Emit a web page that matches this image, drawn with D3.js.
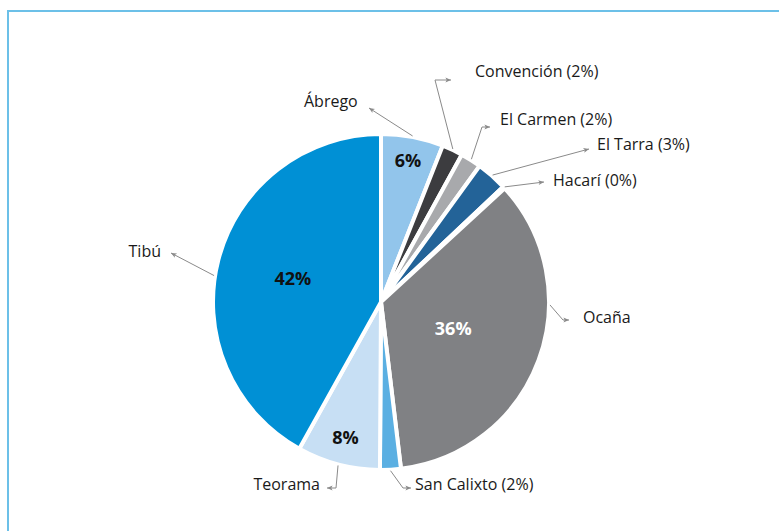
<!DOCTYPE html>
<html>
<head>
<meta charset="utf-8">
<script src="https://cdn.jsdelivr.net/npm/d3@7"></script>
<style>
  body { margin: 0; background: #fff; }
  svg { display: block; font-family: "Open Sans", "Noto Sans", sans-serif; }
</style>
</head>
<body>
<svg id="pie" width="779" height="531"></svg>
<script>
// Data
const municipios = ["Ábrego", "Convención", "El Carmen", "El Tarra", "Hacarí", "Ocaña", "San Calixto", "Teorama", "Tibú"];
const valores = [6.0, 2.0, 2.0, 3.0, 0.2, 35.0, 2.0, 8.0, 42.0];
const etiquetas = ["6%", "2%", "2%", "3%", "0%", "36%", "2%", "8%", "42%"];
const colores = ["#92c5eb", "#3c3c3f", "#a8a9ac", "#236398", "#236398", "#808184", "#5aafe2", "#c7dff4", "#0090d5"];

// percentage shown inside the slice or next to the name
const dentro = ["Ábrego", "Ocaña", "Teorama", "Tibú"];

// label layout: text anchor point and leader path (elbow points), start from slice edge
const layout = {
  "Ábrego":      {tx: 304, ty: 107, pts: [[369, 108]]},
  "Convención":  {tx: 475, ty: 77,  pts: [[435, 80], [451, 80]]},
  "El Carmen":   {tx: 500, ty: 125, pts: [[482, 127], [490, 127]]},
  "El Tarra":    {tx: 597, ty: 150, pts: [[589, 149]]},
  "Hacarí":      {tx: 553, ty: 186, pts: [[544, 182]]},
  "Ocaña":       {tx: 583, ty: 323, ang: 91, pts: [[563, 320], [569, 320]]},
  "San Calixto": {tx: 415, ty: 490, pts: [[403, 488], [411, 488]]},
  "Teorama":     {tx: 320, ty: 490, anchor: "end", pts: [[336, 488], [327, 488]]},
  "Tibú":        {tx: 161, ty: 257, anchor: "end", ang: 279, pts: [[171, 253]]}
};
const radioDentro = {"Ábrego": 144, "Ocaña": 77, "Teorama": 140, "Tibú": 91};

const cx = 381, cy = 302, radius = 168;
const svg = d3.select("#pie");

// frame
svg.append("rect")
  .attr("x", 8).attr("y", 11)
  .attr("width", 820).attr("height", 600)
  .attr("fill", "none")
  .attr("stroke", "#6cc0e8")
  .attr("stroke-width", 2);

svg.append("defs").append("marker")
  .attr("id", "flecha")
  .attr("viewBox", "0 0 10 10")
  .attr("refX", 9).attr("refY", 5)
  .attr("markerWidth", 7).attr("markerHeight", 7)
  .attr("orient", "auto")
  .append("path")
  .attr("d", "M1,1.5 L9,5 L1,8.5 L3,5 Z")
  .attr("fill", "#8a8a8a");

let data = municipios.map((m, i) => ({name: m, value: valores[i], label: etiquetas[i], color: colores[i]}));

let pie = d3.pie().sort(null).value(d => d.value);
let arcs = pie(data);
let arc = d3.arc().innerRadius(0).outerRadius(radius);

let g = svg.append("g").attr("transform", `translate(${cx}, ${cy})`);

g.selectAll("path.slice")
  .data(arcs)
  .join("path")
  .attr("class", "slice")
  .attr("d", arc)
  .attr("fill", d => d.data.color)
  .attr("stroke", "#fff")
  .attr("stroke-width", 4)
  .attr("stroke-linejoin", "round");

// inner percentages
g.selectAll("text.pct")
  .data(arcs.filter(d => dentro.includes(d.data.name)))
  .join("text")
  .attr("class", "pct")
  .attr("transform", d => {
    let a = (d.startAngle + d.endAngle) / 2;
    let r = radioDentro[d.data.name];
    return `translate(${r * Math.sin(a)}, ${-r * Math.cos(a)})`;
  })
  .attr("dy", "0.35em")
  .attr("text-anchor", "middle")
  .attr("font-size", 18)
  .attr("font-weight", "bold")
  .attr("fill", d => d.data.name === "Ocaña" ? "#fff" : "#111")
  .text(d => d.data.label);

// leader lines
let lineas = svg.append("g");
arcs.forEach(d => {
  let L = layout[d.data.name];
  let a = L.ang !== undefined ? L.ang * Math.PI / 180 : (d.startAngle + d.endAngle) / 2;
  let start = [cx + (radius + 1) * Math.sin(a), cy - (radius + 1) * Math.cos(a)];
  let pts = [start].concat(L.pts);
  lineas.append("path")
    .attr("d", d3.line()(pts))
    .attr("fill", "none")
    .attr("stroke", "#8a8a8a")
    .attr("stroke-width", 1)
    .attr("marker-end", "url(#flecha)");

  lineas.append("text")
    .attr("x", L.tx).attr("y", L.ty)
    .attr("text-anchor", L.anchor || "start")
    .attr("font-size", 16)
    .attr("fill", "#1a1a1a")
    .text(dentro.includes(d.data.name) ? d.data.name : `${d.data.name} (${d.data.label})`);
});
</script>
</body>
</html>
